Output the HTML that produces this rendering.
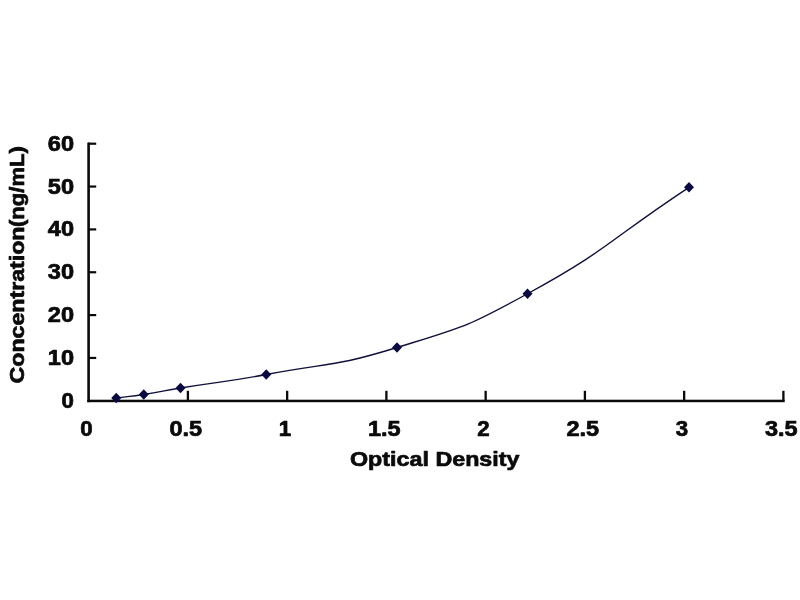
<!DOCTYPE html>
<html><head><meta charset="utf-8"><title>Standard Curve</title>
<style>
html,body{margin:0;padding:0;background:#fff;}
body{width:800px;height:600px;overflow:hidden;}
svg{display:block;}
text{font-family:"Liberation Sans",Arial,Helvetica,sans-serif;font-weight:bold;fill:#0a0a0a;stroke:#0a0a0a;stroke-width:0.7px;stroke-linejoin:round;}
</style></head><body>
<svg width="800" height="600" viewBox="0 0 800 600">
<rect width="800" height="600" fill="#ffffff"/>

<g fill="#0a0a0a">
<rect x="87.3" y="142.6" width="2.6" height="259.6"/>
<rect x="87.3" y="399.7" width="697.4" height="2.5"/>
<rect x="88" y="356.85" width="8.2" height="2.2"/>
<rect x="88" y="314.00" width="8.2" height="2.2"/>
<rect x="88" y="271.15" width="8.2" height="2.2"/>
<rect x="88" y="228.30" width="8.2" height="2.2"/>
<rect x="88" y="185.45" width="8.2" height="2.2"/>
<rect x="88" y="142.60" width="8.2" height="2.2"/>
<rect x="186.75" y="390.8" width="2.3" height="10"/>
<rect x="286.00" y="390.8" width="2.3" height="10"/>
<rect x="385.25" y="390.8" width="2.3" height="10"/>
<rect x="484.50" y="390.8" width="2.3" height="10"/>
<rect x="583.75" y="390.8" width="2.3" height="10"/>
<rect x="683.00" y="390.8" width="2.3" height="10"/>
<rect x="782.25" y="390.8" width="2.3" height="10"/>
</g>
<text x="61.60" y="407.80" font-size="21.2" textLength="12.4" lengthAdjust="spacingAndGlyphs">0</text>
<text x="47.80" y="364.95" font-size="21.2" textLength="26.2" lengthAdjust="spacingAndGlyphs">10</text>
<text x="47.80" y="322.10" font-size="21.2" textLength="26.2" lengthAdjust="spacingAndGlyphs">20</text>
<text x="47.80" y="279.25" font-size="21.2" textLength="26.2" lengthAdjust="spacingAndGlyphs">30</text>
<text x="47.80" y="236.40" font-size="21.2" textLength="26.2" lengthAdjust="spacingAndGlyphs">40</text>
<text x="47.80" y="193.55" font-size="21.2" textLength="26.2" lengthAdjust="spacingAndGlyphs">50</text>
<text x="47.80" y="150.70" font-size="21.2" textLength="26.2" lengthAdjust="spacingAndGlyphs">60</text>
<text x="80.30" y="435.8" font-size="21.2" textLength="12.4" lengthAdjust="spacingAndGlyphs">0</text>
<text x="169.40" y="435.8" font-size="21.2" textLength="32.7" lengthAdjust="spacingAndGlyphs">0.5</text>
<text x="278.80" y="435.8" font-size="21.2" textLength="12.4" lengthAdjust="spacingAndGlyphs">1</text>
<text x="367.90" y="435.8" font-size="21.2" textLength="32.7" lengthAdjust="spacingAndGlyphs">1.5</text>
<text x="477.30" y="435.8" font-size="21.2" textLength="12.4" lengthAdjust="spacingAndGlyphs">2</text>
<text x="566.40" y="435.8" font-size="21.2" textLength="32.7" lengthAdjust="spacingAndGlyphs">2.5</text>
<text x="675.80" y="435.8" font-size="21.2" textLength="12.4" lengthAdjust="spacingAndGlyphs">3</text>
<text x="764.90" y="435.8" font-size="21.2" textLength="32.7" lengthAdjust="spacingAndGlyphs">3.5</text>
<text x="350" y="466" font-size="21" textLength="169.5" lengthAdjust="spacingAndGlyphs">Optical Density</text>
<text transform="translate(24,383.5) rotate(-90)" font-size="19.5" textLength="157.0" lengthAdjust="spacingAndGlyphs">Concentration</text>
<text transform="translate(24,227.0) rotate(-90)" font-size="19.5" textLength="80.8" lengthAdjust="spacingAndGlyphs">(ng/mL)</text>
<path d="M116.25 398.00 C130.00 396.25 130.06 396.63 143.75 394.50 C162.18 391.63 162.08 391.01 180.50 388.00 C223.33 381.01 223.60 382.48 266.25 374.50 C331.85 362.23 333.50 367.13 397.00 347.50 C464.13 326.75 465.91 327.54 527.50 293.75 C611.91 247.44 608.25 240.53 689.00 187.30" fill="none" stroke="#10103a" stroke-width="1.4"/>
<g fill="#0a0a40">
<path d="M116.25 392.80 l5 5.2 l-5 5.2 l-5 -5.2 z"/>
<path d="M143.75 389.30 l5 5.2 l-5 5.2 l-5 -5.2 z"/>
<path d="M180.50 382.80 l5 5.2 l-5 5.2 l-5 -5.2 z"/>
<path d="M266.25 369.30 l5 5.2 l-5 5.2 l-5 -5.2 z"/>
<path d="M397.00 342.30 l5 5.2 l-5 5.2 l-5 -5.2 z"/>
<path d="M527.50 288.55 l5 5.2 l-5 5.2 l-5 -5.2 z"/>
<path d="M689.00 182.10 l5 5.2 l-5 5.2 l-5 -5.2 z"/>
</g>
</svg></body></html>
